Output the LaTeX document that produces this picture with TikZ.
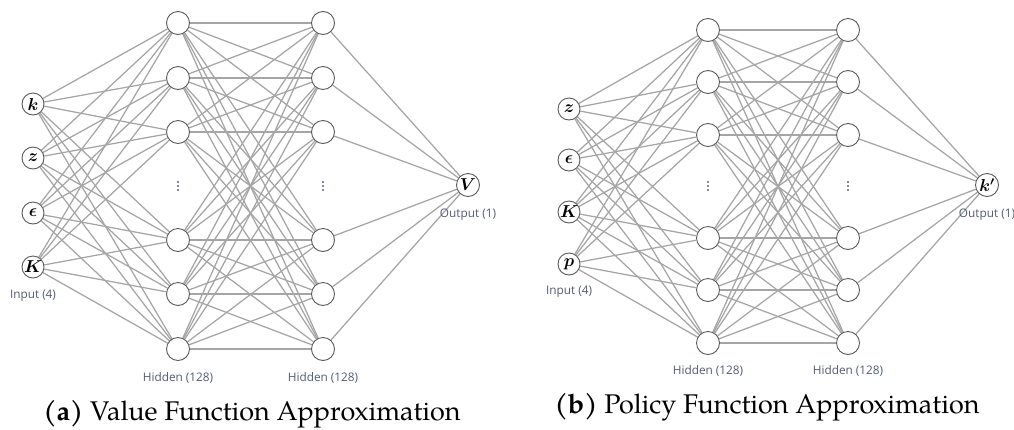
\documentclass[tikz,border=0pt]{standalone}
\usepackage{fontspec}
\usepackage{amsmath,bm}
\setsansfont{Open Sans}
\newfontfamily\capfont{texgyrepagella-regular.otf}
\newfontfamily\capbold{texgyrepagella-bold.otf}
\definecolor{labelc}{RGB}{80,92,115}
\definecolor{edgec}{RGB}{165,165,165}
\definecolor{nodec}{RGB}{90,90,90}
\definecolor{dotc}{RGB}{85,95,120}
\pgfdeclarelayer{bg}
\pgfsetlayers{bg,main}
\tikzset{
  neuron/.style={circle, draw=nodec, fill=white, line width=0.9pt, minimum size=23pt, inner sep=0pt,
    font=\fontsize{18.5}{20}\selectfont},
  inneuron/.style={neuron, minimum size=22pt},
  edge/.style={draw=edgec, line width=1.25pt},
  lbl/.style={font=\sffamily\fontsize{11.8}{14}\selectfont, text=labelc, inner sep=0pt},
  captxt/.style={font=\capfont\fontsize{27}{32}\selectfont, inner sep=0pt},
  vdot/.style={circle, fill=dotc, inner sep=0pt, minimum size=2.2pt}
}
\begin{document}
\begin{tikzpicture}[x=1pt,y=-1pt]
\useasboundingbox (0,0) rectangle (1014,429);
\clip (0,0) rectangle (1014,429);
% ---------- panel (a) ----------
\foreach \i/\yy/\t in {1/104/k,2/158/z,3/213/\epsilon,4/267/K}
  \node[inneuron] (ai\i) at (33,\yy) {$\bm{\t}$};
\foreach \i/\yy in {1/23,2/78,3/132,4/240,5/294,6/349}{
  \node[neuron] (ah\i) at (178,\yy) {};
  \node[neuron] (ag\i) at (323,\yy) {};
}
\node[neuron] (ao) at (468,185) {$\bm{V}$};
\begin{pgfonlayer}{bg}
\foreach \i in {1,...,4}
  \foreach \j in {1,...,6}
    \draw[edge] (ai\i) -- (ah\j);
\foreach \i in {1,...,6}{
  \foreach \j in {1,...,6}
    \draw[edge] (ah\i) -- (ag\j);
  \draw[edge] (ag\i) -- (ao);
}
\end{pgfonlayer}
\foreach \n/\xx in {p/178,q/323}
  \foreach \k/\yy in {1/182,2/186,3/190}
    \node[vdot] (ad\n\k) at (\xx,\yy) {};
\node[lbl] (ail) at (33,296) {Input (4)};
\node[lbl] (ahl) at (178,378) {Hidden (128)};
\node[lbl] (agl) at (323,378) {Hidden (128)};
\node[lbl] (aol) at (468,215) {Output (1)};
\node[captxt] (acap) at (252,414) {{\capbold(a)} Value Function Approximation};
% ---------- panel (b) ----------
\foreach \i/\yy/\t in {1/109/z,2/160/\epsilon,3/212/K,4/264/p}
  \node[inneuron] (bi\i) at (569,\yy) {$\bm{\t}$};
\foreach \i/\yy in {1/30,2/82,3/135,4/238,5/290,6/343}{
  \node[neuron] (bh\i) at (708,\yy) {};
  \node[neuron] (bg\i) at (848,\yy) {};
}
\node[neuron] (bo) at (987,185) {$\bm{k'}$};
\begin{pgfonlayer}{bg}
\foreach \i in {1,...,4}
  \foreach \j in {1,...,6}
    \draw[edge] (bi\i) -- (bh\j);
\foreach \i in {1,...,6}{
  \foreach \j in {1,...,6}
    \draw[edge] (bh\i) -- (bg\j);
  \draw[edge] (bg\i) -- (bo);
}
\end{pgfonlayer}
\foreach \n/\xx in {p/708,q/848}
  \foreach \k/\yy in {1/182,2/186,3/190}
    \node[vdot] (bd\n\k) at (\xx,\yy) {};
\node[lbl] (bil) at (569,292) {Input (4)};
\node[lbl] (bhl) at (708,371) {Hidden (128)};
\node[lbl] (bgl) at (848,371) {Hidden (128)};
\node[lbl] (bol) at (987,215) {Output (1)};
\node[captxt] (bcap) at (767,407) {{\capbold(b)} Policy Function Approximation};
\end{tikzpicture}
\end{document}
